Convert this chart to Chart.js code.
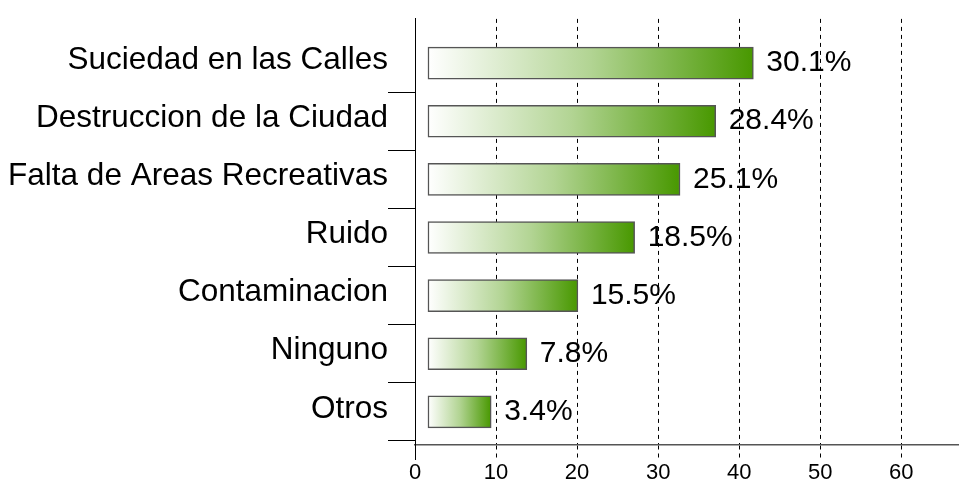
<!DOCTYPE html>
<html>
<head>
<meta charset="utf-8">
<script src="https://cdn.jsdelivr.net/npm/chart.js@4/dist/chart.umd.min.js"></script>
<style>
  html, body { margin: 0; padding: 0; background: #ffffff; }
  #wrap { width: 960px; height: 479px; position: relative; }
</style>
</head>
<body>
<div id="wrap"><canvas id="c" width="960" height="479"></canvas></div>
<script>
// ---- data ----
const categories = ['Suciedad en las Calles', 'Destruccion de la Ciudad', 'Falta de Areas Recreativas', 'Ruido', 'Contaminacion', 'Ninguno', 'Otros'];
const percentLabels = [30.1, 28.4, 25.1, 18.5, 15.5, 7.8, 3.4];
// bar extents as drawn, in x-axis units
const barStarts = [1.6, 1.6, 1.6, 1.6, 1.6, 1.6, 1.6];
const barEnds = [41.75, 37.1, 32.7, 27.1, 20.1, 13.8, 9.4];
const xTicks = [0, 10, 20, 30, 40, 50, 60];

const FONT = '"Liberation Sans", Arial, sans-serif';

const points = categories.map((c, i) => ({ y: i, x: [barStarts[i], barEnds[i]] }));

const valueLabels = {
  id: 'valueLabels',
  afterDatasetsDraw(chart) {
    const ctx = chart.ctx;
    const meta = chart.getDatasetMeta(0);
    ctx.save();
    ctx.font = '30px ' + FONT;
    ctx.fillStyle = '#000000';
    ctx.textAlign = 'left';
    ctx.textBaseline = 'middle';
    meta.data.forEach((el, i) => {
      ctx.fillText(percentLabels[i].toFixed(1) + '%', el.x + 13, el.y);
    });
    ctx.restore();
  }
};

new Chart(document.getElementById('c'), {
  type: 'bar',
  data: {
    datasets: [{
      data: points,
      barThickness: 32,
      borderWidth: 1.5,
      borderColor: '#555555',
      borderSkipped: false,
      backgroundColor: (context) => {
        const chart = context.chart;
        const xs = chart.scales && chart.scales.x;
        if (!xs || context.type !== 'data' || !context.raw) return '#4a9600';
        const x0 = xs.getPixelForValue(context.raw.x[0]);
        const x1 = xs.getPixelForValue(context.raw.x[1]);
        if (!isFinite(x0) || !isFinite(x1)) return '#4a9600';
        const g = chart.ctx.createLinearGradient(x0, 0, x1, 0);
        g.addColorStop(0, '#ffffff');
        g.addColorStop(0.5, '#b2d493');
        g.addColorStop(1, '#489800');
        return g;
      }
    }]
  },
  options: {
    indexAxis: 'y',
    responsive: false,
    animation: false,
    layout: { padding: { top: 12, right: 2, left: 0, bottom: 0 } },
    plugins: { legend: { display: false }, tooltip: { enabled: false } },
    scales: {
      x: {
        type: 'linear',
        min: 0,
        max: 67,
        offset: false,
        z: 1,
        afterBuildTicks: (scale) => { scale.ticks = xTicks.map(v => ({ value: v })); },
        afterFit: (scale) => { scale.height = 34; },
        grid: {
          color: '#000000',
          lineWidth: 1,
          drawTicks: true,
          tickLength: 15,
          tickBorderDash: (c) => (c.tick && c.tick.value === 0 ? [] : [4, 4])
        },
        border: { display: true, color: '#555555', width: 1.5, dash: [4, 4] },
        ticks: {
          color: '#000000',
          font: { family: FONT, size: 22 },
          padding: 0,
          maxRotation: 0,
          autoSkip: false
        }
      },
      y: {
        type: 'linear',
        reverse: true,
        offset: false,
        min: -0.76,
        max: 6.57,
        afterBuildTicks: (scale) => { scale.ticks = categories.map((c, i) => ({ value: i })); },
        afterFit: (scale) => { scale.width = 415; },
        grid: {
          offset: true,
          drawOnChartArea: false,
          drawTicks: true,
          tickLength: 27,
          color: (c) => (c.index === 0 ? 'rgba(0,0,0,0)' : '#000000'),
          lineWidth: 1
        },
        border: { display: true, color: '#000000', width: 1 },
        ticks: {
          autoSkip: false,
          padding: 0,
          labelOffset: -3,
          color: '#000000',
          font: { family: FONT, size: 31.5 },
          callback: (v) => categories[v] !== undefined ? categories[v] : ''
        }
      }
    }
  },
  plugins: [valueLabels]
});
</script>
</body>
</html>
